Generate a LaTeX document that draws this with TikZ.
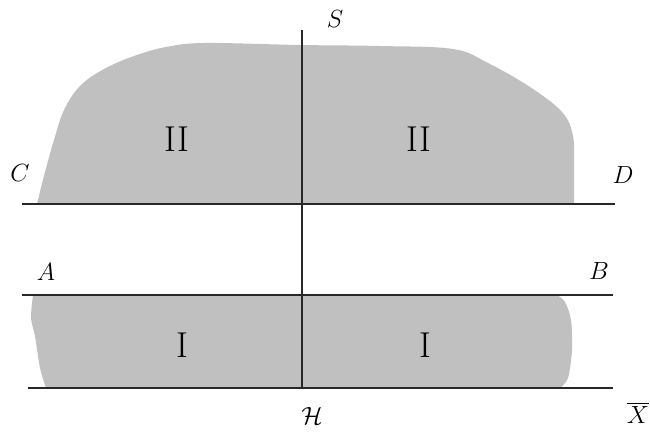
\documentclass[tikz,border=0pt]{standalone}
\usepackage{amsmath}
\usepackage{tikz}
\usetikzlibrary{positioning, calc}
\usepackage{xcolor}
\definecolor{region-gray}{HTML}{C0C0C0}
\definecolor{line-dark}{HTML}{282828}
\tikzset{
  axisline/.style={line-dark, line width=2.2pt},
  ptlabel/.style={inner sep=0pt, font=\fontsize{27}{30}\selectfont},
  reglabel/.style={inner sep=0pt, font=\fontsize{36}{40}\selectfont},
}

\begin{document}
\begin{tikzpicture}[x=1pt, y=-1pt]
  \useasboundingbox (0,0) rectangle (650,431);
  % Region II: upper blob
  \fill[region-gray] plot[smooth, tension=0.6] coordinates {
      (37,204) (45,172) (54,140) (64,110) (80,86) (104,69) (134,56)
      (166,47) (205,43) (300,45) (380,46) (453,49)
      (488,63) (530,87) (562,112) (573,136) (574,170) (574,204)} -- cycle;
  % Region I: lower band
  \fill[region-gray] plot[smooth, tension=0.5] coordinates {
      (33,295) (31,318) (35,336) (40,368) (46,388)} --
      plot[smooth, tension=0.5] coordinates {
      (560,388) (568,378) (572,350) (571,320) (565,302) (557,295)} -- cycle;
  % Line end points
  \coordinate (s-top) at (302,30);
  \coordinate (s-bot) at (302,388);
  \coordinate (c-end) at (22,204);
  \coordinate (d-end) at (615,204);
  \coordinate (a-end) at (22,295);
  \coordinate (b-end) at (613,295);
  \coordinate (x-left) at (28,388);
  \coordinate (x-right) at (613,388);
  % Lines
  \draw[axisline] (c-end) -- (d-end);
  \draw[axisline] (a-end) -- (b-end);
  \draw[axisline] (x-left) -- (x-right);
  \draw[axisline] (s-top) -- (s-bot);
  % Point labels
  \node[ptlabel] (lbl-s) at (335,19) {$S$};
  \node[ptlabel] (lbl-c) at (20,173) {$C$};
  \node[ptlabel] (lbl-d) at (623,175) {$D$};
  \node[ptlabel] (lbl-a) at (46,272) {$A$};
  \node[ptlabel] (lbl-b) at (599,271) {$B$};
  \node[ptlabel] (lbl-h) at (312,416) {$\mathcal{H}$};
  \node[ptlabel] (lbl-x) at (638,413) {$\overline{X}$};
  % Region labels
  \node[reglabel] (reg-2l) at (177,139) {II};
  \node[reglabel] (reg-2r) at (419,139) {II};
  \node[reglabel] (reg-1l) at (182,345) {I};
  \node[reglabel] (reg-1r) at (425,345) {I};
\end{tikzpicture}
\end{document}
